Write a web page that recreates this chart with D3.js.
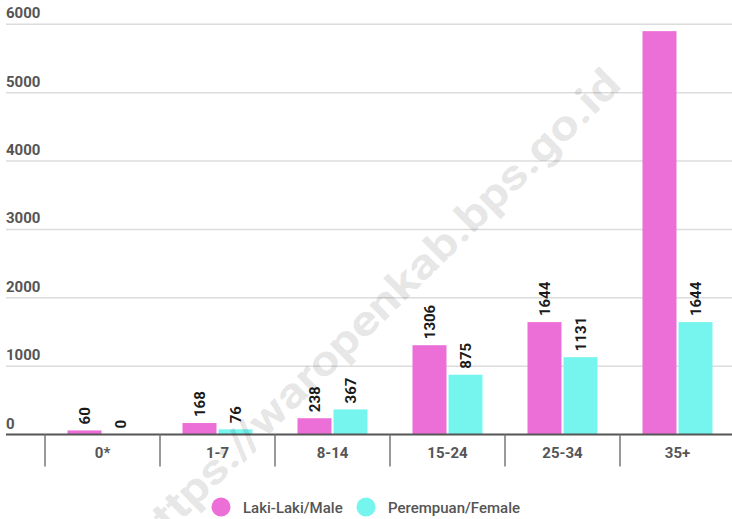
<!DOCTYPE html>
<html>
<head>
<meta charset="utf-8">
<script src="https://cdn.jsdelivr.net/npm/d3@7"></script>
<style>
  html, body { margin: 0; padding: 0; background: #fff; }
  svg { display: block; font-family: Roboto, "Noto Sans", sans-serif; }
</style>
</head>
<body>
<svg id="chart" width="732" height="519"></svg>
<script>
// Age groups and counts per sex
const categories = ["0*", "1-7", "8-14", "15-24", "25-34", "35+"];
const maleValues = [60, 168, 238, 1306, 1644, 5900];
const femaleValues = [0, 76, 367, 875, 1131, 1644];
// the tallest bar's label does not fit in the plot, so it is hidden
const maleLabelShown = [true, true, true, true, true, false];
const femaleLabelShown = [true, true, true, true, true, true];
const seriesNames = ["Laki-Laki/Male", "Perempuan/Female"];
const seriesColors = ["#ec6fd8", "#76f5ef"];
const yTicks = [0, 1000, 2000, 3000, 4000, 5000, 6000];
const watermarkText = "https://waropenkab.bps.go.id";

const svg = d3.select("#chart");
const plot = { left: 6, right: 732, top: 24.3, bottom: 434.5 };

const y = d3.scaleLinear().domain([0, 6000]).range([plot.bottom, plot.top]);
const x = d3.scaleBand().domain(categories).range([45, 735]).padding(0);
const x1 = d3.scaleBand().domain([0, 1]).range([-35, 35]).paddingInner(2 / 36);

// horizontal gridlines with labels sitting above them
const grid = svg.append("g");
grid.selectAll("line").data(yTicks.filter(d => d > 0)).join("line")
  .attr("x1", plot.left).attr("x2", plot.right)
  .attr("y1", d => y(d)).attr("y2", d => y(d))
  .attr("stroke", "#dcdcdc").attr("stroke-width", 1.5);
grid.selectAll("text").data(yTicks).join("text")
  .attr("x", plot.left)
  .attr("y", d => y(d) - 6)
  .attr("fill", "#555")
  .attr("font-size", 15).attr("font-weight", 700)
  .text(d => d);

// bars
const rows = categories.map((c, i) => ({
  cat: c,
  vals: [
    { s: 0, v: maleValues[i], show: maleLabelShown[i] },
    { s: 1, v: femaleValues[i], show: femaleLabelShown[i] }
  ]
}));

const groups = svg.append("g").selectAll("g").data(rows).join("g")
  .attr("transform", d => `translate(${x(d.cat) + x.bandwidth() / 2},0)`);

groups.selectAll("rect").data(d => d.vals).join("rect")
  .attr("x", d => x1(d.s))
  .attr("width", x1.bandwidth())
  .attr("y", d => y(d.v))
  .attr("height", d => y(0) - y(d.v))
  .attr("fill", d => seriesColors[d.s]);

// rotated value labels above each bar
groups.selectAll("text").data(d => d.vals.filter(v => v.show)).join("text")
  .attr("transform", d => `translate(${x1(d.s) + x1.bandwidth() / 2 + 5.5},${y(d.v) - 6}) rotate(-90)`)
  .attr("text-anchor", "start")
  .attr("fill", "#1a1a1a")
  .attr("font-size", 15).attr("font-weight", 700)
  .text(d => d.v);

// baseline and category separators
svg.append("line")
  .attr("x1", plot.left).attr("x2", plot.right)
  .attr("y1", y(0)).attr("y2", y(0))
  .attr("stroke", "#555").attr("stroke-width", 2);

const sepPositions = categories.map(c => x(c));
svg.append("g").selectAll("line").data(sepPositions).join("line")
  .attr("x1", d => d).attr("x2", d => d)
  .attr("y1", y(0)).attr("y2", y(0) + 32)
  .attr("stroke", "#777").attr("stroke-width", 1.5);

svg.append("g").selectAll("text").data(categories).join("text")
  .attr("x", d => x(d) + x.bandwidth() / 2)
  .attr("y", y(0) + 23)
  .attr("text-anchor", "middle")
  .attr("fill", "#555")
  .attr("font-size", 15).attr("font-weight", 700)
  .text(d => d);

// legend
const legendX = [221, 366];
const legend = svg.append("g").selectAll("g").data(seriesNames).join("g")
  .attr("transform", (d, i) => `translate(${legendX[i]},507)`);
legend.append("circle").attr("r", 9.5).attr("fill", (d, i) => seriesColors[i]);
legend.append("text")
  .attr("x", 22).attr("y", 5.5)
  .attr("fill", "#555")
  .attr("font-size", 15).attr("font-weight", 500)
  .text(d => d);

// site watermark across the plot
svg.append("text")
  .attr("transform", "translate(378,312) rotate(-44.5)")
  .attr("text-anchor", "middle")
  .attr("dominant-baseline", "middle")
  .attr("font-size", 42).attr("font-weight", 700)
  .attr("textLength", 665).attr("lengthAdjust", "spacingAndGlyphs")
  .attr("fill", "#000").attr("fill-opacity", 0.11)
  .text(watermarkText);
</script>
</body>
</html>
